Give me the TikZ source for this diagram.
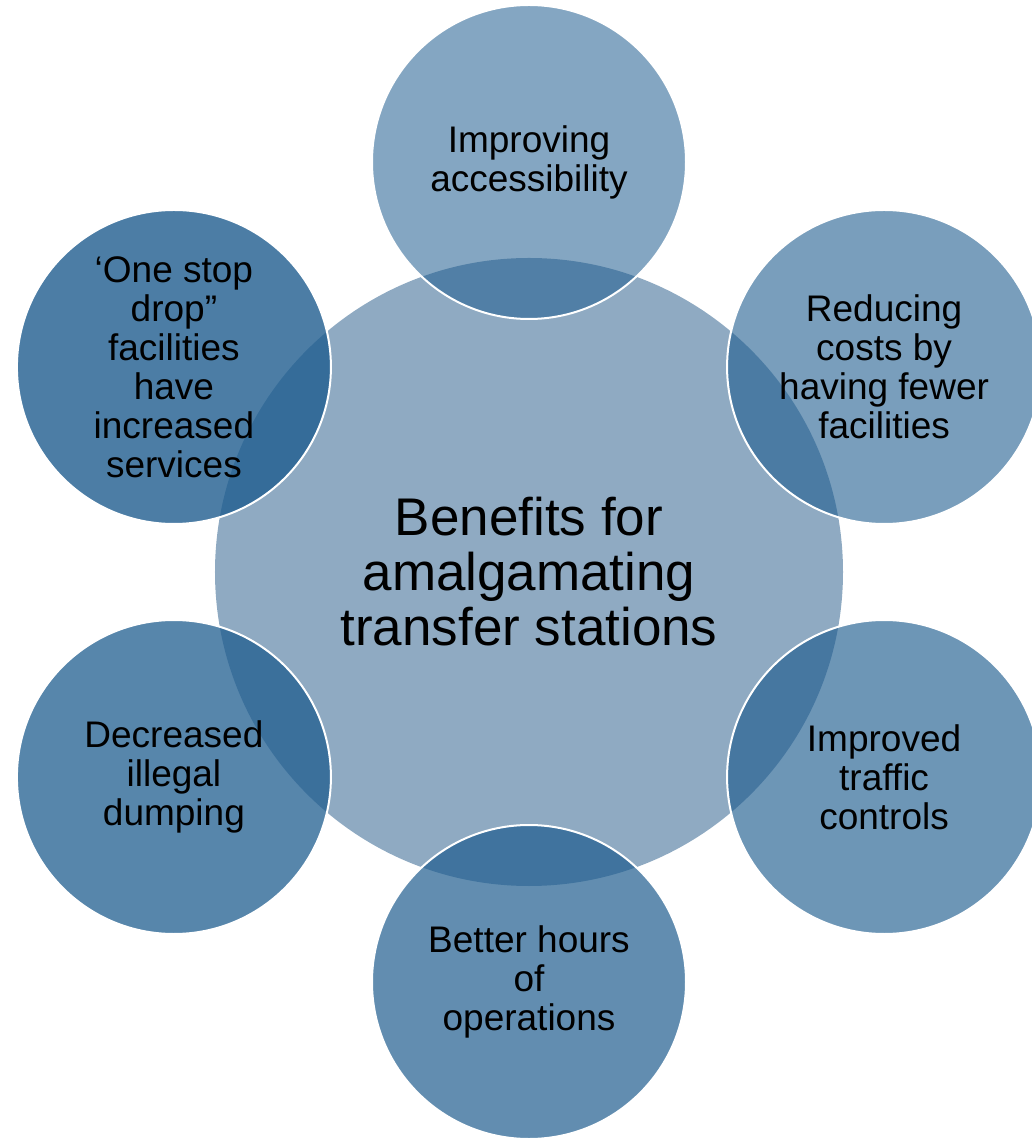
\documentclass[tikz,border=0pt]{standalone}
\usepackage{fontspec}
\setmainfont{Liberation Sans}
\usepackage{xcolor}
\definecolor{hubblue}{RGB}{143,170,194}
\definecolor{petalblue}{RGB}{31,93,143}

\begin{document}
\begin{tikzpicture}[x=1pt,y=1pt,
		hub/.style={circle,fill=hubblue,minimum size=628pt,inner sep=0pt,align=center,
			font=\fontsize{53}{55}\selectfont},
		petal/.style={circle,draw=white,line width=2pt,fill=petalblue,fill opacity=#1,
			text opacity=1,minimum size=314pt,inner sep=0pt,align=center,
			font=\fontsize{37}{39}\selectfont}]
			\useasboundingbox (-529,-567) rectangle (502,572);
			\node[hub] (benefits) at (0,0) {Benefits for\\amalgamating\\transfer stations};
			\node[petal=0.55] (access) at (90:410) {Improving\\accessibility};
			\node[petal=0.6] (costs) at (30:410) {Reducing\\costs by\\having fewer\\facilities};
			\node[petal=0.65] (traffic) at (-30:410) {Improved\\traffic\\controls};
			\node[petal=0.7] (hours) at (-90:410) {Better hours\\of\\operations};
			\node[petal=0.75] (dumping) at (-150:410) {Decreased\\illegal\\dumping};
			\node[petal=0.8] (onestop) at (150:410) {‘One stop\\drop”\\facilities\\have\\increased\\services};
		\end{tikzpicture}
\end{document}
